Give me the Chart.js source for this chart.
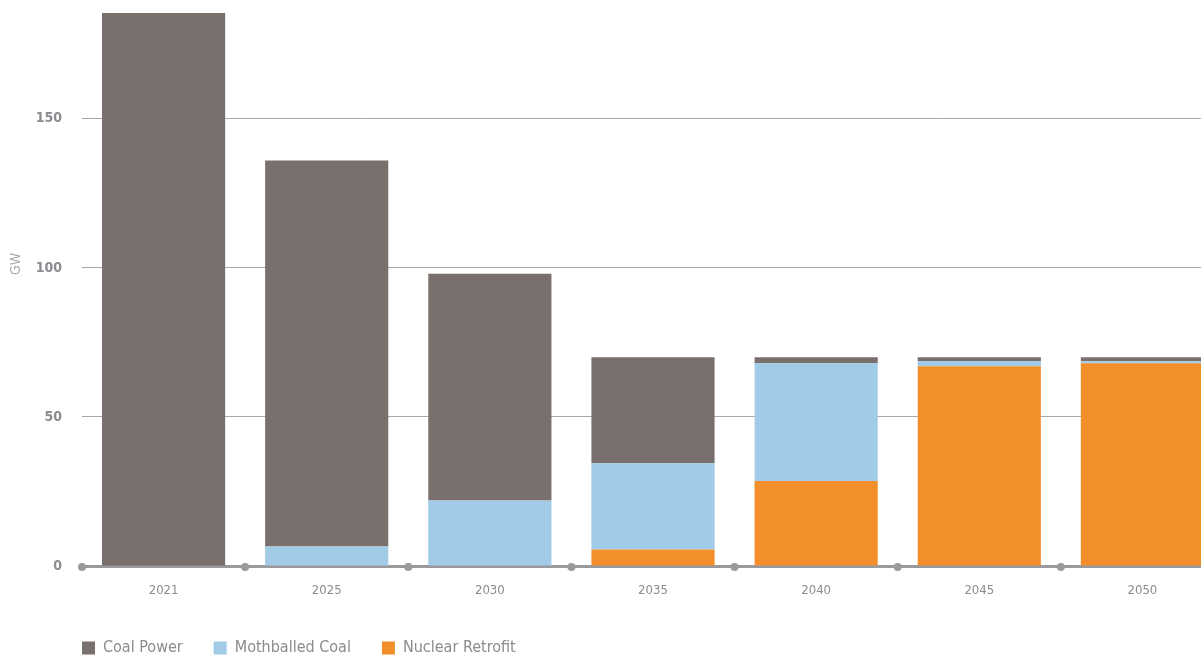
<!DOCTYPE html>
<html>
<head>
<meta charset="utf-8">
<script src="https://cdn.jsdelivr.net/npm/chart.js@4"></script>
<style>
  body { margin: 0; background: #fff; overflow: hidden; }
  #wrap { width: 1224px; height: 658px; }
</style>
</head>
<body>
<div id="wrap"><canvas id="myChart" width="1224" height="658"></canvas></div>
<script>
// datos (GW)
const anios = ["2021", "2025", "2030", "2035", "2040", "2045", "2050"];
const carbon = [185.5, 129.5, 76, 35.5, 2, 1.2, 1.3];
const carbonParado = [0, 6.5, 22, 29, 39.5, 1.8, 0.7];
const nuclear = [0, 0, 0, 5.5, 28.5, 67, 68];
const ticksY = [0, 50, 100, 150];
const tituloY = "GW";

const fuente = "'DejaVu Sans Condensed', 'DejaVu Sans', sans-serif";
const gris = "#8b8b90";

// puntos sobre el eje x, en los limites de cada categoria + titulo del eje y
const extrasEje = {
  id: "extrasEje",
  afterDraw(chart) {
    const x = chart.scales.x;
    const yS = chart.scales.y;
    const ctx = chart.ctx;
    const y = chart.chartArea.bottom + 1;
    const paso = x.getPixelForTick(1) - x.getPixelForTick(0);
    ctx.save();
    ctx.fillStyle = "#9a9a9e";
    for (let i = 0; i <= anios.length; i++) {
      const px = x.getPixelForTick(0) - paso / 2 + i * paso;
      ctx.beginPath();
      ctx.arc(px, y, 4, 0, Math.PI * 2);
      ctx.fill();
    }
    // titulo GW girado, a la altura del tick 100
    ctx.translate(16, yS.getPixelForValue(100) - 4);
    ctx.rotate(-Math.PI / 2);
    ctx.fillStyle = "#a9a9ad";
    ctx.font = "14px " + fuente;
    ctx.textAlign = "center";
    ctx.textBaseline = "middle";
    ctx.fillText(tituloY, 0, 0);
    ctx.restore();
  },
};

// mover la leyenda para alinearla con el eje
const moverLeyenda = {
  id: "moverLeyenda",
  afterLayout(chart) {
    chart.legend.left += 51;
    chart.legend.right += 51;
    chart.legend.top += 8;
    chart.legend.bottom += 8;
  },
};

const config = {
  type: "bar",
  data: {
    labels: anios,
    datasets: [
      { label: "Coal Power", data: carbon, backgroundColor: "#796f6c" },
      { label: "Mothballed Coal", data: carbonParado, backgroundColor: "#a1cbe6" },
      { label: "Nuclear Retrofit", data: nuclear, backgroundColor: "#f28f2b" },
    ].reverse(),
  },
  options: {
    responsive: false,
    animation: false,
    layout: { padding: { top: 13, left: 0, right: 0, bottom: 0 } },
    datasets: {
      bar: { categoryPercentage: 1, barPercentage: 0.755 },
    },
    scales: {
      x: {
        stacked: true,
        grid: { display: false, drawTicks: false },
        border: { display: true, color: "#9a9a9e", width: 3 },
        ticks: { color: gris, font: { family: fuente, size: 13 }, padding: 17 },
        afterFit: (s) => { s.height = 35; },
      },
      y: {
        stacked: true,
        min: 0,
        max: 185.5,
        afterBuildTicks: (s) => { s.ticks = ticksY.map((v) => ({ value: v })); },
        grid: {
          drawTicks: false,
          color: (c) => (c.tick && c.tick.value === 0 ? "rgba(0,0,0,0)" : "#a8a8a8"),
          lineWidth: 1,
        },
        border: { display: false },
        ticks: {
          color: gris,
          font: { family: fuente, size: 14, weight: "bold" },
          padding: 20,
        },
        afterFit: (s) => {
          s.width = 82;
          s.paddingTop = 0;
          s.paddingBottom = 0;
        },
      },
    },
    plugins: {
      legend: {
        position: "bottom",
        align: "start",
        reverse: true,
        labels: {
          color: gris,
          font: { family: fuente, size: 16 },
          boxWidth: 13,
          boxHeight: 13,
          padding: 31,
        },
      },
      tooltip: { enabled: false },
    },
  },
  plugins: [extrasEje, moverLeyenda],
};

new Chart(document.getElementById("myChart"), config);
</script>
</body>
</html>
